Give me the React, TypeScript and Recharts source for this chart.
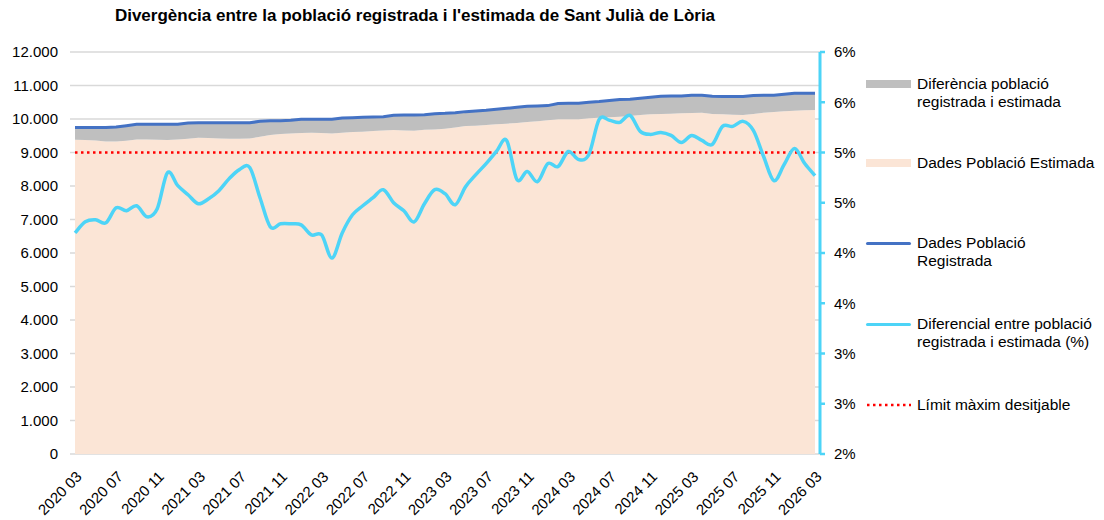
import React from "react";
import {
  ComposedChart,
  Area,
  Line,
  XAxis,
  YAxis,
  CartesianGrid,
  ReferenceLine,
} from "recharts";

const months = [
  "2020 03", "2020 04", "2020 05", "2020 06", "2020 07", "2020 08", "2020 09", "2020 10", "2020 11", "2020 12",
  "2021 01", "2021 02", "2021 03", "2021 04", "2021 05", "2021 06", "2021 07", "2021 08", "2021 09", "2021 10", "2021 11", "2021 12",
  "2022 01", "2022 02", "2022 03", "2022 04", "2022 05", "2022 06", "2022 07", "2022 08", "2022 09", "2022 10", "2022 11", "2022 12",
  "2023 01", "2023 02", "2023 03", "2023 04", "2023 05", "2023 06", "2023 07", "2023 08", "2023 09", "2023 10", "2023 11", "2023 12",
  "2024 01", "2024 02", "2024 03", "2024 04", "2024 05", "2024 06", "2024 07", "2024 08", "2024 09", "2024 10", "2024 11", "2024 12",
  "2025 01", "2025 02", "2025 03", "2025 04", "2025 05", "2025 06", "2025 07", "2025 08", "2025 09", "2025 10", "2025 11", "2025 12",
  "2026 01", "2026 02", "2026 03",
];

// població registrada (padró)
const registered = [
  9750, 9750, 9750, 9750, 9760, 9800, 9840, 9840, 9840, 9840,
  9840, 9880, 9890, 9890, 9890, 9890, 9890, 9890, 9930, 9950, 9950, 9960,
  9990, 9990, 9990, 9990, 10030, 10040, 10050, 10060, 10070, 10110, 10120, 10120,
  10130, 10160, 10170, 10190, 10220, 10240, 10260, 10290, 10320, 10350, 10380, 10390,
  10400, 10460, 10470, 10470, 10500, 10520, 10550, 10580, 10590, 10620, 10650, 10680,
  10690, 10690, 10710, 10710, 10680, 10670, 10670, 10670, 10700, 10710, 10710, 10740,
  10770, 10770, 10770,
];

// població estimada
const estimated = [
  9380, 9370, 9360, 9330, 9330, 9350, 9390, 9390, 9380, 9370,
  9390, 9410, 9440, 9430, 9420, 9410, 9410, 9420, 9470, 9520, 9550, 9570,
  9580, 9590, 9580, 9570, 9590, 9610, 9620, 9640, 9660, 9670, 9660, 9650,
  9680, 9690, 9710, 9750, 9790, 9800, 9820, 9840, 9860, 9880, 9910, 9930,
  9960, 9990, 9990, 9990, 10020, 10040, 10050, 10070, 10090, 10120, 10140, 10150,
  10160, 10170, 10180, 10190, 10150, 10140, 10130, 10120, 10150, 10190, 10210, 10230,
  10250, 10260, 10270,
];

// diferencial en %
const pct = [
  4.2, 4.31, 4.33, 4.3, 4.45, 4.42, 4.47, 4.36, 4.44, 4.8,
  4.67, 4.58, 4.49, 4.54, 4.62, 4.74, 4.83, 4.85, 4.55, 4.26, 4.29, 4.29,
  4.28, 4.18, 4.18, 3.95, 4.2, 4.38, 4.47, 4.55, 4.63, 4.5, 4.42, 4.31,
  4.49, 4.63, 4.59, 4.48, 4.66, 4.78, 4.89, 5.01, 5.12, 4.73, 4.81, 4.71,
  4.89, 4.86, 5.01, 4.93, 4.98, 5.33, 5.32, 5.3, 5.37, 5.21, 5.18, 5.2,
  5.17, 5.1, 5.17, 5.12, 5.08, 5.26, 5.26, 5.31, 5.22, 4.96, 4.72, 4.88,
  5.04, 4.89, 4.77,
];

const limitValue = 9000;
const leftTicks = [0, 1000, 2000, 3000, 4000, 5000, 6000, 7000, 8000, 9000, 10000, 11000, 12000];
const rightTicks = [2, 2.5, 3, 3.5, 4, 4.5, 5, 5.5, 6];

const FONT = "'Liberation Sans', Arial, sans-serif";
const C_BLUE = "#4472C4";
const C_CYAN = "#4DD4F7";
const C_GRAY = "#BFBFBF";
const C_PEACH = "#FBE5D6";
const C_RED = "#FF0000";

const data = months.map((m, i) => ({
  month: m,
  estimated: estimated[i],
  diff: registered[i] - estimated[i],
  registered: registered[i],
  pct: pct[i],
}));

const fmtThousands = (v: number) => (v === 0 ? "0" : `${v / 1000}.000`);

// línia suavitzada tipus Excel (Catmull-Rom)
const smoothCurve = (context: any) => {
  let pts: number[][] = [];
  return {
    areaStart() {},
    areaEnd() {},
    lineStart() {
      pts = [];
    },
    lineEnd() {
      if (!pts.length) return;
      context.moveTo(pts[0][0], pts[0][1]);
      for (let i = 0; i < pts.length - 1; i++) {
        const p0 = pts[i - 1] || pts[i];
        const p1 = pts[i];
        const p2 = pts[i + 1];
        const p3 = pts[i + 2] || pts[i + 1];
        context.bezierCurveTo(
          p1[0] + (p2[0] - p0[0]) / 6,
          p1[1] + (p2[1] - p0[1]) / 6,
          p2[0] - (p3[0] - p1[0]) / 6,
          p2[1] - (p3[1] - p1[1]) / 6,
          p2[0],
          p2[1]
        );
      }
    },
    point(x: number, y: number) {
      pts.push([+x, +y]);
    },
  };
};

const XTick = (props: any) => {
  const { x, y, payload } = props;
  const ax = x + 4;
  const ay = y + 12;
  return (
    <text
      x={ax}
      y={ay}
      transform={`rotate(-45 ${ax} ${ay})`}
      textAnchor="end"
      dy="0.35em"
      fontSize={15}
      fontFamily={FONT}
      fill="#000"
    >
      {payload.value}
    </text>
  );
};

const legendText: React.CSSProperties = {
  position: "absolute",
  left: 917,
  fontSize: 15.5,
  lineHeight: "18px",
  fontFamily: FONT,
  color: "#000",
  whiteSpace: "nowrap",
};

function ChartLegend() {
  return (
    <>
      <div style={{ position: "absolute", left: 866, top: 80, width: 45, height: 8, background: C_GRAY }} />
      <div style={{ ...legendText, top: 75 }}>
        Diferència població
        <br />
        registrada i estimada
      </div>

      <div style={{ position: "absolute", left: 866, top: 159, width: 45, height: 8, background: C_PEACH }} />
      <div style={{ ...legendText, top: 154 }}>Dades Població Estimada</div>

      <div style={{ position: "absolute", left: 866, top: 242, width: 45, height: 3, background: C_BLUE, borderRadius: 2 }} />
      <div style={{ ...legendText, top: 234 }}>
        Dades Població
        <br />
        Registrada
      </div>

      <div style={{ position: "absolute", left: 866, top: 323, width: 45, height: 3, background: C_CYAN, borderRadius: 2 }} />
      <div style={{ ...legendText, top: 315 }}>
        Diferencial entre població
        <br />
        registrada i estimada (%)
      </div>

      <svg style={{ position: "absolute", left: 866, top: 400 }} width={46} height={10}>
        <line x1={1} y1={5} x2={45} y2={5} stroke={C_RED} strokeWidth={2.5} strokeDasharray="2.5 3.5" />
      </svg>
      <div style={{ ...legendText, top: 396 }}>Límit màxim desitjable</div>
    </>
  );
}

export default function App() {
  return (
    <div style={{ position: "absolute", left: 0, top: 0, width: 1104, height: 520, background: "#fff" }}>
      <div
        style={{
          position: "absolute",
          left: 0,
          top: 5,
          width: 830,
          textAlign: "center",
          fontFamily: FONT,
          fontWeight: "bold",
          fontSize: 17,
          lineHeight: "22px",
          color: "#000",
        }}
      >
        Divergència entre la població registrada i l'estimada de Sant Julià de Lòria
      </div>
      <ComposedChart
        width={1104}
        height={520}
        data={data}
        margin={{ top: 52, right: 244, left: 0, bottom: 0 }}
      >
        <CartesianGrid yAxisId="left" horizontal vertical={false} stroke="#D9D9D9" strokeWidth={1.5} />
        <XAxis
          dataKey="month"
          interval={3}
          padding={{ left: 5, right: 5 }}
          axisLine={false}
          tickLine={false}
          height={66}
          tick={<XTick />}
        />
        <YAxis
          yAxisId="left"
          domain={[0, 12000]}
          ticks={leftTicks}
          tickFormatter={fmtThousands}
          width={70}
          axisLine={false}
          tickLine={false}
          tickSize={6}
          tickMargin={6}
          tick={{ fontSize: 15, fontFamily: FONT, fill: "#000" }}
        />
        <YAxis
          yAxisId="right"
          orientation="right"
          domain={[2, 6]}
          ticks={rightTicks}
          tickFormatter={(v: number) => `${Math.round(v)}%`}
          width={40}
          axisLine={{ stroke: C_CYAN, strokeWidth: 3 }}
          tickLine={{ stroke: C_CYAN, strokeWidth: 2.5 }}
          tickSize={5}
          tickMargin={9}
          tick={{ fontSize: 15, fontFamily: FONT, fill: "#000" }}
        />
        <Area
          yAxisId="left"
          type="linear"
          dataKey="estimated"
          stackId="pop"
          fill={C_PEACH}
          fillOpacity={1}
          stroke="none"
          isAnimationActive={false}
        />
        <Area
          yAxisId="left"
          type="linear"
          dataKey="diff"
          stackId="pop"
          fill={C_GRAY}
          fillOpacity={1}
          stroke="none"
          isAnimationActive={false}
        />
        <ReferenceLine
          yAxisId="left"
          segment={[
            { x: months[0], y: limitValue },
            { x: months[months.length - 1], y: limitValue },
          ]}
          stroke={C_RED}
          strokeWidth={2.5}
          strokeDasharray="2.5 3.5"
        />
        <Line
          yAxisId="left"
          type="linear"
          dataKey="registered"
          stroke={C_BLUE}
          strokeWidth={3}
          dot={false}
          isAnimationActive={false}
        />
        <Line
          yAxisId="right"
          type={smoothCurve as any}
          dataKey="pct"
          stroke={C_CYAN}
          strokeWidth={3.5}
          dot={false}
          isAnimationActive={false}
        />
      </ComposedChart>
      <ChartLegend />
    </div>
  );
}
